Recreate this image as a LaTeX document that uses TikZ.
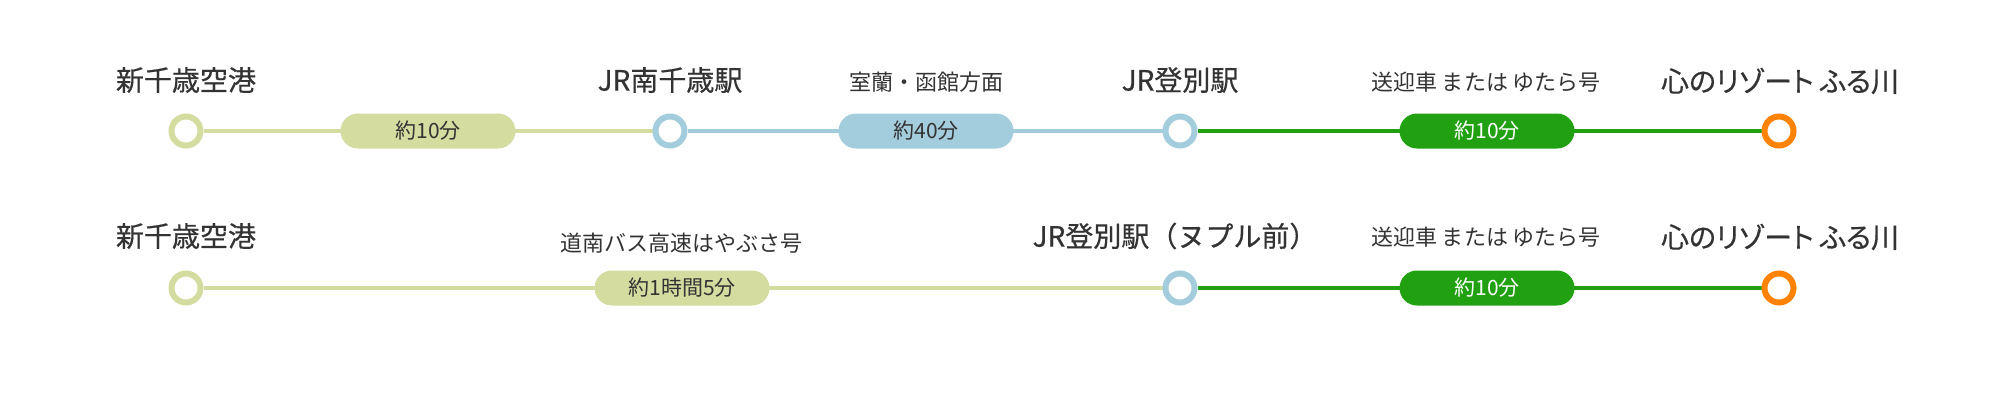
\documentclass[tikz,border=0pt]{standalone}
\usepackage{fontspec}
\setmainfont{Noto Sans CJK JP}
\newfontfamily\mainjp[FakeBold=0.5]{Noto Sans CJK JP}
\newfontfamily\mainjpp[FakeBold=0.5,RawFeature=+palt]{Noto Sans CJK JP}
\usetikzlibrary{backgrounds}
\definecolor{linelime}{HTML}{D4DCA0}
\definecolor{lineblue}{HTML}{A3CCDC}
\definecolor{linegreen}{HTML}{21A011}
\definecolor{lineorange}{HTML}{FF8200}
\definecolor{txt}{HTML}{333333}
\begin{document}
\begin{tikzpicture}[x=1pt,y=-1pt,
  station/.style={circle,draw,line width=6pt,fill=white,minimum size=29pt,inner sep=0pt},
  pill/.style={rounded corners=17.5pt,minimum width=175pt,minimum height=35pt,inner sep=0pt,font=\fontsize{21}{24}\selectfont},
  mainlbl/.style={font=\mainjp\fontsize{28}{32}\selectfont,text=txt,inner sep=0pt},
  resortlbl/.style={font=\mainjpp\fontsize{28}{32}\selectfont,text=txt,inner sep=0pt},
  sublbl/.style={font=\fontsize{22}{26}\selectfont,text=txt,inner sep=0pt},
  conn/.style={line width=4.5pt}]
\useasboundingbox (0,0) rectangle (2000,400);
% row 1
\node[station,draw=linelime] (c11) at (186,131) {};
\node[station,draw=lineblue] (c12) at (670,131) {};
\node[station,draw=lineblue] (c13) at (1180,131) {};
\node[station,draw=lineorange] (c14) at (1779,131) {};
\node[pill,fill=linelime,text=txt] (p11) at (428,131) {約10分};
\node[pill,fill=lineblue,text=txt] (p12) at (926,131) {約40分};
\node[pill,fill=linegreen,text=white] (p13) at (1487,131) {約10分};
\node[mainlbl] (l11) at (186,80) {新千歳空港};
\node[mainlbl] (l12) at (670,80) {JR南千歳駅};
\node[mainlbl] (l13) at (1180,80) {JR登別駅};
\node[resortlbl] (l14) at (1780,81) {心のリゾート ふる川};
\node[sublbl] (s11) at (926,82) {室蘭・函館方面};
\node[sublbl] (s12) at (1486,82) {送迎車 または ゆたら号};
% row 2
\node[station,draw=linelime] (c21) at (186,288) {};
\node[station,draw=lineblue] (c22) at (1180,288) {};
\node[station,draw=lineorange] (c23) at (1779,288) {};
\node[pill,fill=linelime,text=txt] (p21) at (682,288) {約1時間5分};
\node[pill,fill=linegreen,text=white] (p22) at (1487,288) {約10分};
\node[mainlbl] (l21) at (186,236) {新千歳空港};
\node[mainlbl] (l22) at (1175,236) {JR登別駅（ヌプル前）};
\node[resortlbl] (l23) at (1780,237) {心のリゾート ふる川};
\node[sublbl] (s21) at (681,243) {道南バス高速はやぶさ号};
\node[sublbl] (s22) at (1486,237) {送迎車 または ゆたら号};
\begin{scope}[on background layer]
\fill[white] (0,0) rectangle (2000,400);
\draw[conn,linelime] (c11) -- (c12);
\draw[conn,lineblue] (c12) -- (c13);
\draw[conn,linegreen] (c13) -- (c14);
\draw[conn,linelime] (c21) -- (c22);
\draw[conn,linegreen] (c22) -- (c23);
\end{scope}
\end{tikzpicture}
\end{document}
